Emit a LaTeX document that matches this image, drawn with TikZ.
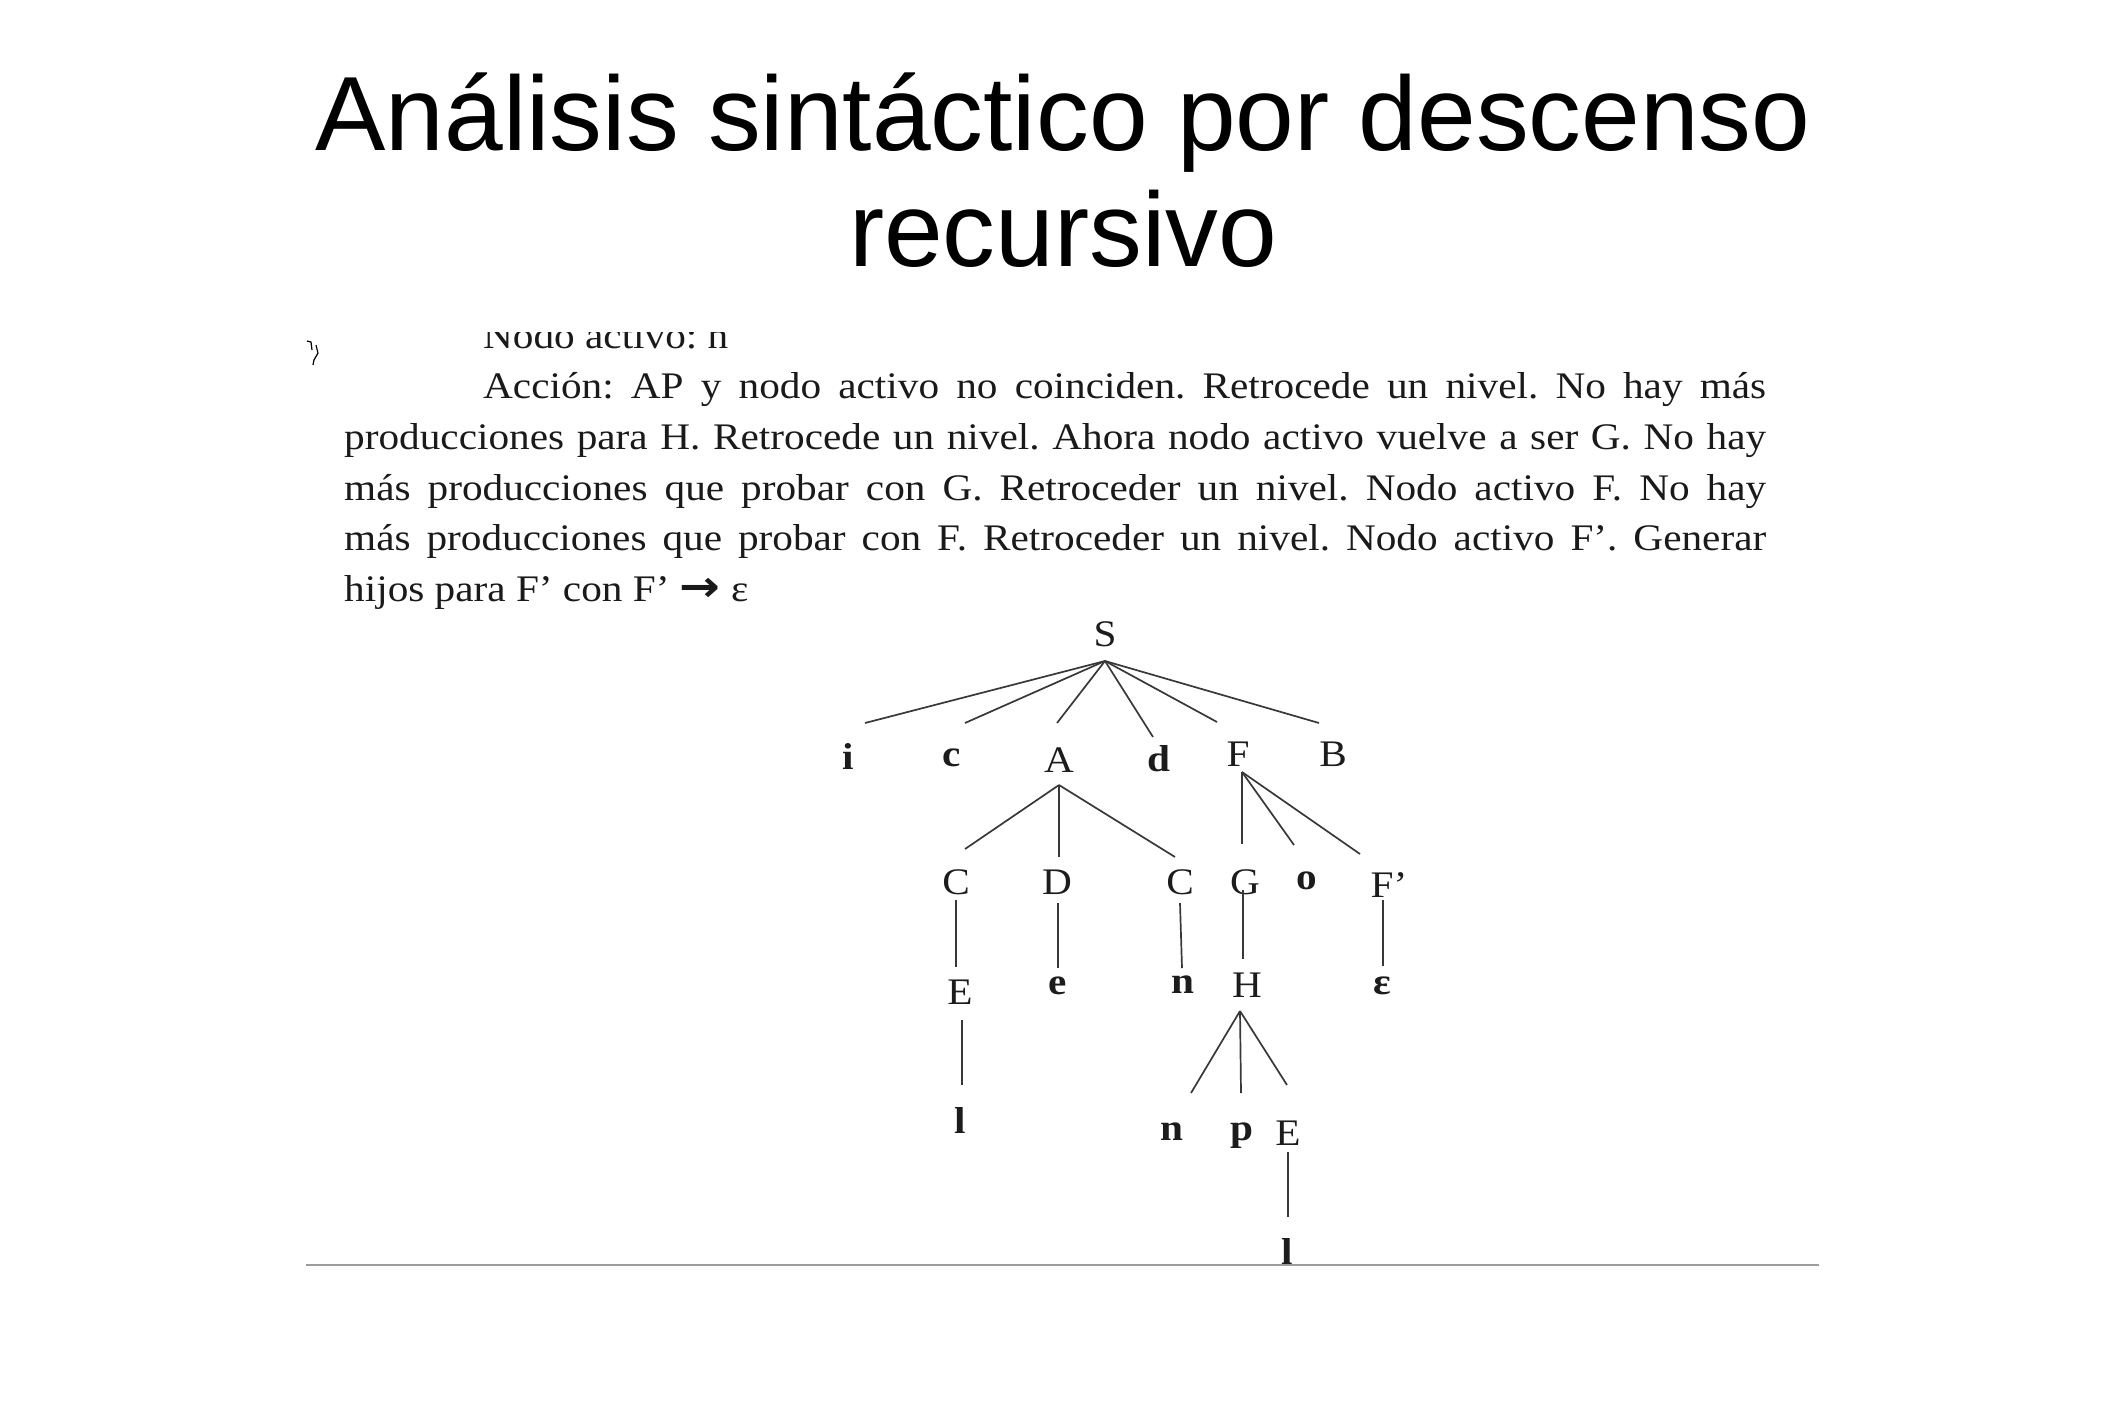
\documentclass[tikz,border=0pt]{standalone}
\usepackage{fontspec}
\setmainfont{Liberation Serif}
\newfontfamily\titlefont{Liberation Sans}
\newfontfamily\bodyfont{Liberation Serif}[FakeStretch=1.1]
\newfontfamily\arrowfont{DejaVu Sans}
\definecolor{bodycol}{HTML}{1A1A1A}
\definecolor{labelcol}{HTML}{1C1C1C}
\definecolor{linecol}{HTML}{383838}
\definecolor{rulecol}{HTML}{9C9C9C}
\frenchspacing

\begin{document}
\begin{tikzpicture}[x=1pt,y=-1pt,
  titletext/.style={anchor=base, inner sep=0pt, text=black,
    font=\titlefont\fontsize{105.5}{118}\selectfont},
  lbl/.style={anchor=base, inner sep=0pt, text=labelcol,
    font=\bodyfont\fontsize{37.5}{40}\selectfont},
  term/.style={lbl, font=\bodyfont\bfseries\fontsize{37.5}{40}\selectfont},
  branch/.style={draw=linecol, line width=1.7pt},
]
\useasboundingbox (0,0) rectangle (2126,1417);

% title
\node[titletext] (title1) at (1063,150) {Análisis sintáctico por descenso};
\node[titletext] (title2) at (1063,266) {recursivo};

% small stray mark at the left of the text block
\draw[line width=1.2pt, black] (307,341) -- (311,342) -- (312,350)
  (316,345) -- (318,353) -- (314,360) -- (313,365);

% explanatory paragraph (top line cut off)
\begin{scope}
\clip (300,332) rectangle (1830,640);
\node[anchor=base west, inner sep=0pt, text=bodycol,
  font=\bodyfont\fontsize{37.5}{50.7}\selectfont] (body) at (344,348) {%
  \parbox[t]{1422pt}{\parindent=0pt
  \hspace*{139pt}Nodo activo: n\par
  \hspace*{139pt}Acción: AP y nodo activo no coinciden. Retrocede un nivel. No hay más\linebreak
  producciones para H. Retrocede un nivel. Ahora nodo activo vuelve a ser G. No hay\linebreak
  más producciones que probar con G. Retroceder un nivel. Nodo activo F. No hay\linebreak
  más producciones que probar con F. Retroceder un nivel. Nodo activo F’. Generar\linebreak
  hijos para F’ con F’ \scalebox{1.3}[1.15]{\arrowfont\bfseries →} ε}};
\end{scope}

% tree labels
\node[lbl]  (S)   at (1105,646) {S};
\node[term] (i)   at (848,769)  {i};
\node[term] (c)   at (952,766)  {c};
\node[lbl]  (A)   at (1059,772) {A};
\node[term] (d)   at (1159,771) {d};
\node[lbl]  (F)   at (1238,766) {F};
\node[lbl]  (B)   at (1333,766) {B};
\node[lbl]  (C1)  at (956,894)  {C};
\node[lbl]  (D)   at (1057,894) {D};
\node[lbl]  (C2)  at (1180,894) {C};
\node[lbl]  (G)   at (1245,894) {G};
\node[term] (o)   at (1307,889) {o};
\node[lbl]  (Fp)  at (1389,897) {F’};
\node[lbl]  (E1)  at (960,1004) {E};
\node[term] (e)   at (1058,994) {e};
\node[term] (n1)  at (1183,993) {n};
\node[lbl]  (H)   at (1247,997) {H};
\node[term] (eps) at (1382,994) {ε};
\node[term] (l1)  at (960,1133) {l};
\node[term] (n2)  at (1172,1140) {n};
\node[term] (p)   at (1242,1140) {p};
\node[lbl]  (E2)  at (1288,1145) {E};
\node[term] (l2)  at (1287,1264) {l};

% branch end points
\coordinate (S-j)  at (1105,661);
\coordinate (i-t)  at (865,723);
\coordinate (c-t)  at (965,723);
\coordinate (A-t)  at (1057,723);
\coordinate (d-t)  at (1153,737);
\coordinate (F-t)  at (1217,722);
\coordinate (B-t)  at (1319,723);
\coordinate (A-j)  at (1059,785);
\coordinate (C1-t) at (965,849);
\coordinate (D-t)  at (1059,857);
\coordinate (C2-t) at (1175,857);
\coordinate (F-j)  at (1242,772);
\coordinate (G-t)  at (1242,844);
\coordinate (o-t)  at (1294,845);
\coordinate (Fp-t) at (1360,854);
\coordinate (C1-b) at (956,900);
\coordinate (E1-t) at (956,967);
\coordinate (D-b)  at (1058,903);
\coordinate (e-t)  at (1058,968);
\coordinate (C2-b) at (1180,903);
\coordinate (n1-t) at (1182,968);
\coordinate (G-b)  at (1243,890);
\coordinate (H-t)  at (1243,959);
\coordinate (Fp-b) at (1383,900);
\coordinate (eps-t) at (1383,966);
\coordinate (E1-b) at (962,1020);
\coordinate (l1-t) at (962,1085);
\coordinate (H-j)  at (1240,1011);
\coordinate (n2-t) at (1191,1093);
\coordinate (p-t)  at (1241,1093);
\coordinate (E2-t) at (1287,1085);
\coordinate (E2-b) at (1288,1152);
\coordinate (l2-t) at (1288,1217);

% branches
\foreach \k in {i,c,A,d,F,B} \draw[branch] (S-j) -- (\k-t);
\foreach \k in {C1,D,C2} \draw[branch] (A-j) -- (\k-t);
\foreach \k in {G,o,Fp} \draw[branch] (F-j) -- (\k-t);
\draw[branch] (C1-b) -- (E1-t);
\draw[branch] (D-b) -- (e-t);
\draw[branch] (C2-b) -- (n1-t);
\draw[branch] (G-b) -- (H-t);
\draw[branch] (Fp-b) -- (eps-t);
\draw[branch] (E1-b) -- (l1-t);
\foreach \k in {n2,p,E2} \draw[branch] (H-j) -- (\k-t);
\draw[branch] (E2-b) -- (l2-t);

% rule under the figure
\coordinate (rule-l) at (306,1265);
\coordinate (rule-r) at (1819,1265);
\draw[draw=rulecol, line width=1.8pt] (rule-l) -- (rule-r);
\end{tikzpicture}
\end{document}
